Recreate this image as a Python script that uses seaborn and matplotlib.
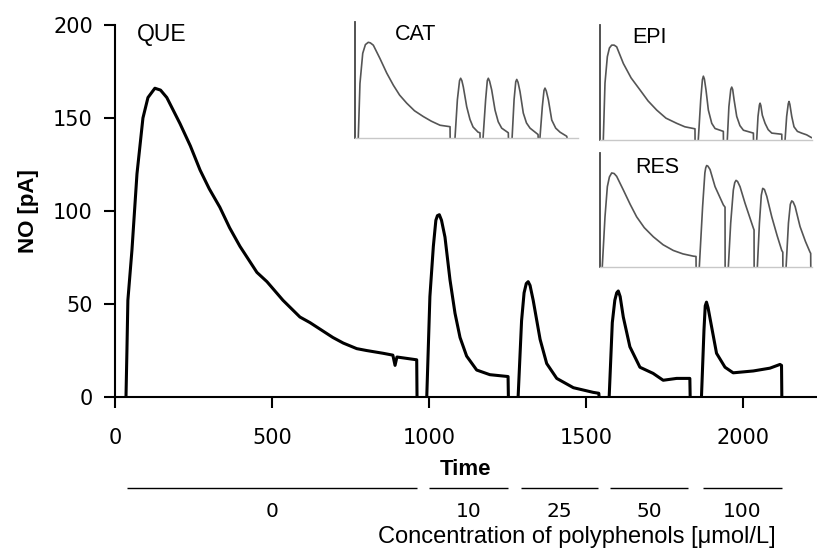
import matplotlib

matplotlib.use("Agg")

import matplotlib.pyplot as plt
import pandas as pd
import seaborn as sns

# main trace: QUE followed by four further additions (time, NO current in pA)
que_time = [
    [35, 38, 41, 54, 70, 89, 105, 127, 145, 165, 207, 240, 271, 300, 334, 365, 398, 452,
     484, 535, 589, 621, 694, 727, 770, 801, 854, 885, 892, 898, 961, 962],
    [993, 1003, 1014, 1022, 1027, 1033, 1040, 1051, 1067, 1083, 1099, 1120, 1152, 1194,
     1252, 1253],
    [1284, 1295, 1303, 1310, 1316, 1322, 1332, 1354, 1375, 1407, 1460, 1523, 1541, 1542],
    [1574, 1584, 1592, 1598, 1603, 1609, 1619, 1640, 1672, 1714, 1746, 1789, 1831, 1832],
    [1868, 1876, 1880, 1884, 1889, 1900, 1916, 1943, 1969, 2033, 2086, 2118, 2123, 2124],
]
que_no = [
    [0, 25, 52, 79, 120, 150, 161, 166, 165, 161, 147, 135, 122, 112, 102, 91, 81, 67,
     62, 52, 43, 40, 32, 29, 26, 25, 23.5, 22.5, 17, 21.5, 20, 0],
    [0, 54, 81, 95, 97.5, 98, 95, 86, 63, 45, 32, 22, 14.5, 12, 11, 0],
    [0, 41, 56, 61, 62, 60, 52, 31, 18, 10, 5, 2.5, 2, 0],
    [0, 40, 52, 56, 57, 54, 43, 27, 16, 12.7, 9, 10, 10, 0],
    [0, 36, 49, 51, 48, 38, 23.5, 16, 13, 14, 15.5, 17.5, 17, 0],
]

# inset traces
cat_time = [
    [33, 50, 78, 105, 134, 155, 185, 252, 320, 387, 450, 522, 600, 689, 770, 858, 959, 960],
    [1009, 1033, 1055, 1066, 1078, 1093, 1127, 1160, 1191, 1242, 1261, 1262],
    [1292, 1318, 1335, 1345, 1358, 1379, 1413, 1445, 1480, 1547, 1548],
    [1585, 1605, 1622, 1632, 1645, 1665, 1698, 1730, 1766, 1847, 1848],
    [1866, 1890, 1907, 1917, 1930, 1951, 1985, 2025, 2069, 2136, 2140],
]
cat_no = [
    [0, 94, 146, 161, 165, 164, 160, 137, 112, 91, 74, 60, 47, 37, 29, 22, 19.5, 0],
    [0, 66, 99, 103, 99, 88, 54, 32, 19, 10, 9, 0],
    [0, 66, 99, 103, 98, 83, 48, 28, 17, 9, 0],
    [0, 66, 97, 101, 96, 80, 43, 26, 17, 6, 0],
    [0, 54, 82, 86, 81, 66, 31, 17, 10, 3, 0],
]

epi_time = [
    [35, 53, 78, 100, 124, 150, 177, 248, 330, 425, 510, 602, 700, 814, 900, 991, 1008, 1009],
    [1043, 1069, 1087, 1097, 1108, 1125, 1150, 1186, 1221, 1309, 1310],
    [1351, 1368, 1388, 1398, 1408, 1423, 1451, 1485, 1522, 1628, 1629],
    [1663, 1677, 1692, 1699, 1707, 1723, 1752, 1785, 1823, 1929, 1930],
    [1964, 1981, 1998, 2006, 2015, 2035, 2059, 2095, 2140, 2193, 2246],
]
epi_no = [
    [0, 99, 145, 160, 165, 165, 162, 133, 108, 87, 68, 52, 38, 29, 23, 20, 19.5, 0],
    [0, 70, 105, 111, 106, 87, 52, 29, 20, 15, 0],
    [0, 58, 88, 92, 88, 70, 41, 25, 17, 12, 0],
    [0, 41, 61, 64, 60, 43, 29, 18, 12, 10, 0],
    [0, 41, 63, 67, 62, 41, 23, 15, 12, 9, 4],
]

res_time = [
    [24, 53, 78, 100, 124, 150, 177, 248, 320, 389, 470, 566, 670, 778, 880, 991, 1019, 1020],
    [1054, 1089, 1113, 1122, 1132, 1145, 1168, 1221, 1309, 1327, 1328],
    [1362, 1387, 1415, 1430, 1444, 1460, 1486, 1539, 1628, 1635, 1636],
    [1670, 1692, 1712, 1727, 1745, 1770, 1823, 1880, 1929, 1940, 1941],
    [1975, 2000, 2020, 2035, 2050, 2071, 2123, 2180, 2229, 2236, 2237],
]
res_no = [
    [0, 88, 141, 158, 165, 164, 159, 135, 110, 88, 69, 53, 39, 29, 23, 19, 18.5, 0],
    [0, 106, 165, 174, 178, 177, 171, 141, 109, 105, 0],
    [0, 77, 135, 148, 152, 150, 141, 112, 68, 65, 0],
    [0, 77, 126, 138, 136, 124, 88, 55, 29, 26, 0],
    [0, 77, 110, 116, 114, 106, 71, 45, 26, 24, 0],
]

# concentration of polyphenols for each addition interval
conc_labels = ["0", "10", "25", "50", "100"]
conc_start = [38, 1000, 1293, 1576, 1873]
conc_end = [962, 1252, 1538, 1825, 2124]

x_ticks = [0, 500, 1000, 1500, 2000]
y_ticks = [0, 50, 100, 150, 200]

DIGIT_FONT = ["DejaVu Sans"]


def to_frame(times, values):
    rows = []
    for seg, (ts, vs) in enumerate(zip(times, values)):
        for t, v in zip(ts, vs):
            rows.append({"t": t, "v": v, "seg": seg})
    return pd.DataFrame(rows)


def draw_inset(fig, rect, times, values, label, label_xy):
    ax = fig.add_axes(rect)
    ax.set_facecolor("none")
    sns.lineplot(data=to_frame(times, values), x="t", y="v", units="seg",
                 estimator=None, sort=False, color="#555555", lw=1.2, ax=ax)
    ax.set_xlim(0, 2250)
    ax.set_ylim(0, 200)
    ax.set_xticks([])
    ax.set_yticks([])
    ax.set_xlabel("")
    ax.set_ylabel("")
    for side in ("top", "right"):
        ax.spines[side].set_visible(False)
    ax.spines["left"].set_color("#444444")
    ax.spines["left"].set_linewidth(1.3)
    ax.spines["bottom"].set_color("#c8c8c8")
    ax.spines["bottom"].set_linewidth(1.0)
    fig.text(label_xy[0], label_xy[1], label, fontsize=15.5, va="baseline", ha="left")
    return ax


sns.set_style("ticks")
plt.rcParams["font.family"] = ["Liberation Sans", "DejaVu Sans"]
plt.rcParams["text.color"] = "black"
plt.rcParams["axes.labelcolor"] = "black"

W, H = 817, 550
fig = plt.figure(figsize=(W / 100, H / 100), dpi=100)

ax = fig.add_axes([115 / W, 1 - 397 / H, (W - 115) / W, (397 - 25) / H])
sns.lineplot(data=to_frame(que_time, que_no), x="t", y="v", units="seg",
             estimator=None, sort=False, color="black", lw=2.2, ax=ax)
ax.set_xlim(0, 2236)
ax.set_ylim(0, 200)
ax.set_xticks(x_ticks)
ax.set_yticks(y_ticks)
for side in ("top", "right"):
    ax.spines[side].set_visible(False)
for side in ("left", "bottom"):
    ax.spines[side].set_linewidth(1.5)
    ax.spines[side].set_color("black")
ax.tick_params(axis="both", direction="out", length=8, width=1.5, labelsize=15, colors="black")
ax.tick_params(axis="y", pad=8)
ax.tick_params(axis="x", pad=14)
for lbl in ax.get_xticklabels() + ax.get_yticklabels():
    lbl.set_fontfamily(DIGIT_FONT)
ax.set_xlabel("Time", fontsize=16, fontweight="bold", labelpad=8)
ax.set_ylabel("NO [pA]", fontsize=16, fontweight="bold", labelpad=10)
ax.text(137 / W, 1 - 41.5 / H, "QUE", fontsize=16.5, va="baseline", ha="left",
        transform=fig.transFigure)

# concentration bars below the time axis
xform = ax.get_xaxis_transform()
ax.hlines([-0.245] * len(conc_start), conc_start, conc_end, colors="black",
          lw=1.0, transform=xform, clip_on=False)
for lab, s, e in zip(conc_labels, conc_start, conc_end):
    ax.text((s + e) / 2, -0.322, lab, fontsize=14.5, ha="center", va="baseline",
            family=DIGIT_FONT, transform=xform, clip_on=False)
fig.text(378 / W, 1 - 543 / H, "Concentration of polyphenols [\u03bcmol/L]",
         fontsize=17, ha="left", va="baseline")

draw_inset(fig, [355 / W, 1 - 138 / H, (578 - 355) / W, (138 - 22) / H],
           cat_time, cat_no, "CAT", (395 / W, 1 - 40 / H))
draw_inset(fig, [600 / W, 1 - 140 / H, (812 - 600) / W, (140 - 25) / H],
           epi_time, epi_no, "EPI", (632 / W, 1 - 43 / H))
draw_inset(fig, [600 / W, 1 - 267 / H, (812 - 600) / W, (267 - 153) / H],
           res_time, res_no, "RES", (635 / W, 1 - 173 / H))

fig.savefig("out.png", dpi=100)
